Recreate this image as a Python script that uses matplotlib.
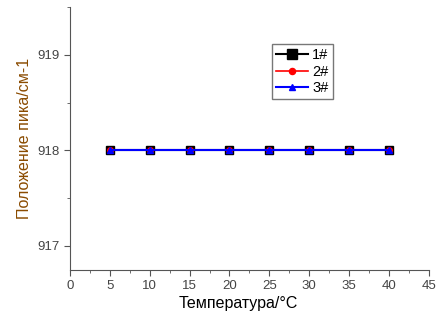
import matplotlib

matplotlib.use("Agg")
import matplotlib.pyplot as plt  # noqa: E402
from matplotlib.ticker import MultipleLocator  # noqa: E402

temperature = [5, 10, 15, 20, 25, 30, 35, 40]
peak_1 = [918, 918, 918, 918, 918, 918, 918, 918]
peak_2 = [918, 918, 918, 918, 918, 918, 918, 918]
peak_3 = [918, 918, 918, 918, 918, 918, 918, 918]
labels = ["1#", "2#", "3#"]

plt.rcParams["font.family"] = ["Liberation Sans", "DejaVu Sans"]

fig = plt.figure(figsize=(4.43, 3.19), dpi=100)
ax = fig.add_axes([0.158, 0.154, 0.81, 0.824])

ax.plot(temperature, peak_1, "s-", color="black", lw=1.5, ms=6, label=labels[0])
ax.plot(temperature, peak_2, "o-", color="red", lw=1.2, ms=4, label=labels[1])
ax.plot(temperature, peak_3, "^-", color="blue", lw=1.5, ms=4, label=labels[2])

ax.set_xlim(0, 45)
ax.set_ylim(916.75, 919.5)
ax.xaxis.set_major_locator(MultipleLocator(5))
ax.xaxis.set_minor_locator(MultipleLocator(2.5))
ax.yaxis.set_major_locator(MultipleLocator(1))
ax.yaxis.set_minor_locator(MultipleLocator(0.5))
for side in ("top", "right"):
    ax.spines[side].set_visible(False)
for side in ("left", "bottom"):
    ax.spines[side].set_color("#555555")
ax.tick_params(which="both", colors="#555555", labelsize=9.5, labelcolor="#444444")
ax.tick_params(which="major", length=4)
ax.tick_params(which="minor", length=2)

ax.set_xlabel("Температура/°C", fontsize=11.5, color="black", labelpad=3)
ax.xaxis.set_label_coords(0.47, -0.1)
ax.set_ylabel("Положение пика/см-1", fontsize=11.5, color="#8a4b00", labelpad=4)

leg = ax.legend(loc="upper left", bbox_to_anchor=(0.563, 0.859), fontsize=10.5,
                frameon=True, fancybox=False, edgecolor="#555555",
                handlelength=2.2, borderpad=0.3, labelspacing=0.15,
                handletextpad=0.25, markerscale=1.1, borderaxespad=0)
leg.get_frame().set_linewidth(1.0)

fig.savefig("out.png", dpi=100)
